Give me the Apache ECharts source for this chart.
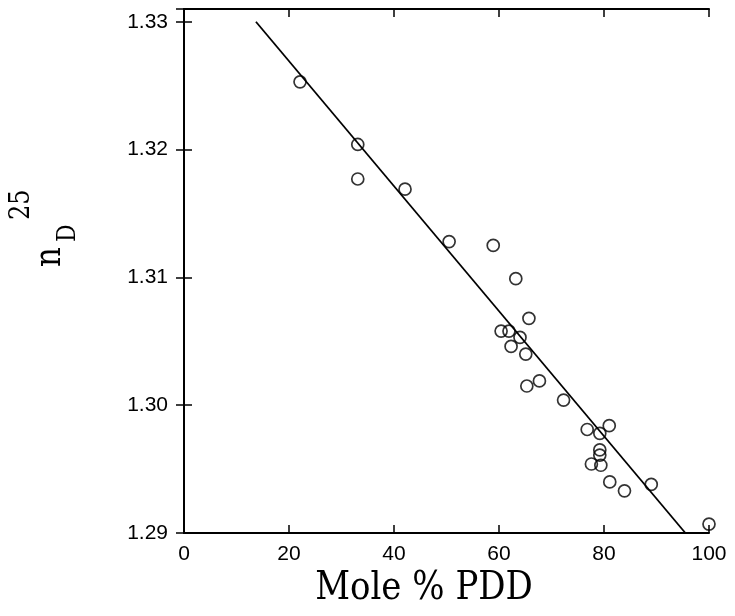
<!DOCTYPE html>
<html>
<head>
<meta charset="utf-8">
<script src="https://cdn.jsdelivr.net/npm/echarts@6/dist/echarts.min.js"></script>
<style>
  html, body { margin: 0; padding: 0; background: #fff; }
  #chart { width: 735px; height: 616px; }
</style>
</head>
<body>
<div id="chart"></div>
<script>
// measured points: mole % PDD vs refractive index n_D^25
const molePct = [22.1, 33.1, 33.1, 42.1, 50.5, 58.9, 63.2, 65.7, 60.4, 61.9, 64.0, 62.3, 65.1, 67.7, 65.3, 72.3, 76.8, 81.0, 79.2, 79.2, 79.2, 77.6, 79.4, 81.1, 83.9, 89.0, 100.0]
const refIndex = [1.3253, 1.3204, 1.3177, 1.3169, 1.3128, 1.3125, 1.3099, 1.3068, 1.3058, 1.3058, 1.3053, 1.3046, 1.3040, 1.3019, 1.3015, 1.3004, 1.2981, 1.2984, 1.2978, 1.2965, 1.2961, 1.2954, 1.2953, 1.2940, 1.2933, 1.2938, 1.2907]

// least squares line, end points
const fitX = [13.7, 95.5]
const fitY = [1.3300, 1.2900]

const xRange = [0, 100, 20]
const yRange = [1.29, 1.331, 0.01]

const chart = echarts.init(document.getElementById('chart'))

const tickFont = { color: '#000', fontSize: 21, fontFamily: '"Liberation Sans", Arial, sans-serif' }
const lineStyle = { color: '#000', width: 2 }

function yLabel(v) {
  // hide the extra label at the top of the frame
  if (Math.abs(v * 100 - Math.round(v * 100)) > 0.01) return ''
  return v.toFixed(2)
}

const option = {
  animation: false,
  backgroundColor: '#fff',
  grid: { left: 184, right: 26, top: 9, bottom: 83 },
  xAxis: [
    {
      type: 'value', min: xRange[0], max: xRange[1], interval: xRange[2],
      axisLine: { lineStyle },
      axisTick: { inside: true, length: 8, lineStyle: { color: '#000', width: 1.5 } },
      axisLabel: { ...tickFont, margin: 11 },
      splitLine: { show: false }
    },
    {
      type: 'value', position: 'top', min: xRange[0], max: xRange[1], interval: xRange[2],
      axisLine: { lineStyle },
      axisTick: { inside: true, length: 8, lineStyle: { color: '#000', width: 1.5 } },
      axisLabel: { show: false },
      splitLine: { show: false }
    }
  ],
  yAxis: [
    {
      type: 'value', min: yRange[0], max: yRange[1], interval: yRange[2],
      axisLine: { lineStyle },
      axisTick: { inside: true, length: 8, lineStyle: { color: '#000', width: 1.5 } },
      axisLabel: { ...tickFont, margin: 16, formatter: yLabel },
      splitLine: { show: false }
    },
    {
      type: 'value', position: 'right', min: yRange[0], max: yRange[1], interval: yRange[2],
      axisLine: { lineStyle },
      axisTick: { inside: true, length: 8, lineStyle: { color: '#000', width: 1.5 } },
      axisLabel: { show: false },
      splitLine: { show: false }
    }
  ],
  series: [
    {
      type: 'line',
      xAxisIndex: 0, yAxisIndex: 0,
      data: fitX.map((x, i) => [x, fitY[i]]),
      showSymbol: false,
      lineStyle: { color: '#000', width: 1.8 },
      z: 2
    },
    {
      type: 'scatter',
      xAxisIndex: 0, yAxisIndex: 0,
      data: molePct.map((x, i) => [x, refIndex[i]]),
      symbol: 'circle',
      symbolSize: 12,
      itemStyle: { color: 'rgba(255,255,255,0)', borderColor: '#000', borderWidth: 1.7 },
      z: 3
    }
  ],
  graphic: [
    {
      type: 'text',
      x: 424, y: 589,
      scaleY: 1.15,
      style: {
        text: 'Mole % PDD',
        fontSize: 34, fontFamily: '"DejaVu Serif", serif',
        fill: '#000',
        align: 'center', verticalAlign: 'middle',
        textAlign: 'center', textVerticalAlign: 'middle'
      }
    },
    {
      type: 'group',
      x: 60, y: 267,
      rotation: Math.PI / 2,
      children: [
        {
          type: 'text', x: 0, y: -10, scaleY: 1.2,
          style: { text: 'n', fontSize: 31, fontFamily: '"DejaVu Serif", serif', fill: '#000',
            align: 'left', verticalAlign: 'middle', textAlign: 'left', textVerticalAlign: 'middle' }
        },
        {
          type: 'text', x: 25, y: 8, scaleY: 1.2,
          style: { text: 'D', fontSize: 22, fontFamily: '"DejaVu Serif", serif', fill: '#000',
            align: 'left', verticalAlign: 'middle', textAlign: 'left', textVerticalAlign: 'middle' }
        },
        {
          type: 'text', x: 47, y: -38, scaleY: 1.2,
          style: { text: '25', fontSize: 24, fontFamily: '"DejaVu Serif", serif', fill: '#000',
            align: 'left', verticalAlign: 'middle', textAlign: 'left', textVerticalAlign: 'middle' }
        }
      ]
    }
  ]
}

chart.setOption(option)
</script>
</body>
</html>
